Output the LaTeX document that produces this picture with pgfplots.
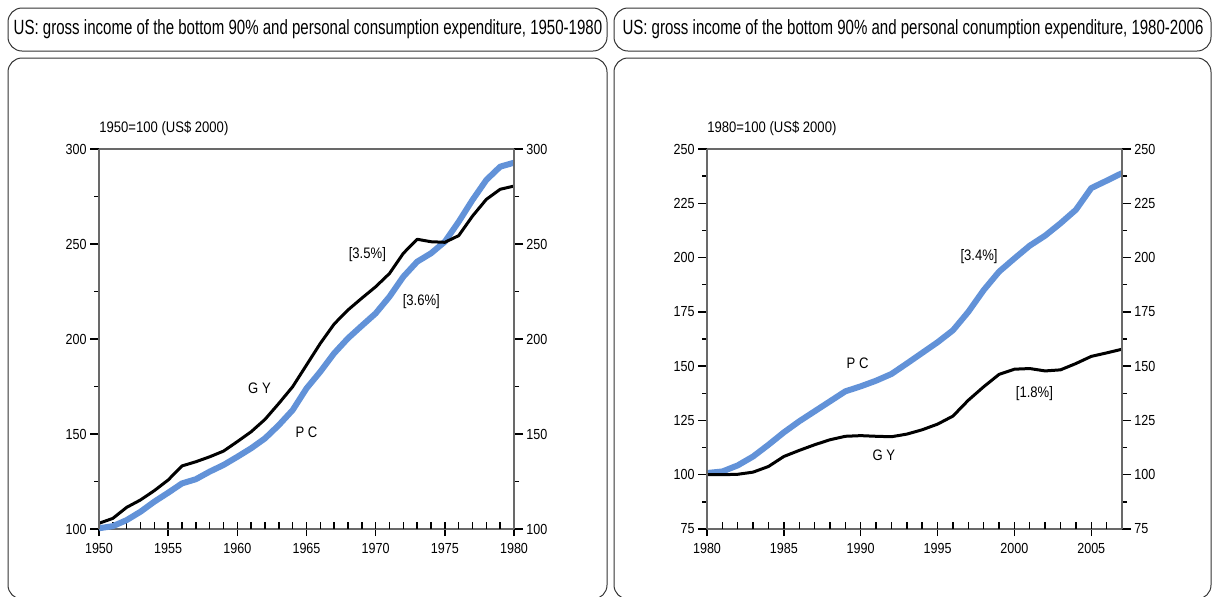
\documentclass[border=0pt]{standalone}
\usepackage{fontspec}
\setmainfont{Liberation Sans}
\newfontfamily\titlefont[FakeStretch=0.73]{Liberation Sans}
\newfontfamily\narrow[FakeStretch=0.86]{Liberation Sans}
\usepackage{pgfplots}
\pgfplotsset{compat=1.18}
\definecolor{pcblue}{RGB}{98,146,216}
\definecolor{axgray}{RGB}{105,105,105}

\pgfplotsset{
  base/.style={scale only axis, width=207.5pt, height=190pt,
    axis line style={draw=axgray, line width=0.7pt},
    tick style={black, line width=0.7pt},
    tick label style={font=\narrow\fontsize{7.3}{8}\selectfont},
    /pgf/number format/assume math mode=true,
    /pgf/number format/1000 sep={},
    clip=false},
  box/.style={base, xtick pos=bottom, ytick=\empty, tick align=center,
    major tick length=7pt,
    extra x tick labels={},
    extra x tick style={tick align=inside, major tick length=3.5pt}},
  yside/.style={base, axis x line=none, axis y line*=#1, tick align=outside,
    major tick length=4.5pt, minor tick length=2.5pt, minor y tick num=1,
    yticklabel style={inner sep=1.5pt}},
}
\tikzset{
  pc/.style={pcblue, line width=3pt, line join=round},
  gy/.style={black, line width=1.5pt, line join=round},
  lab/.style={font=\narrow\fontsize{7.6}{8.5}\selectfont, inner sep=0pt}
}

\begin{document}
\begin{tikzpicture}
\useasboundingbox (0,0) rectangle (607.5pt,-298pt);
\clip (0,0) rectangle (607.5pt,-298pt);
% frames
\begin{scope}[draw=black!80, line width=0.5pt, rounded corners=7pt]
\draw (4pt,-4pt) rectangle (303.5pt,-25.5pt);
\draw (4pt,-29pt) rectangle (303.5pt,-299.5pt);
\draw (307pt,-4pt) rectangle (605.5pt,-25.5pt);
\draw (307pt,-29pt) rectangle (605.5pt,-299.5pt);
\end{scope}
\node[font=\titlefont\fontsize{10.3}{12}\selectfont] at (154pt,-14.75pt)
  {US: gross income of the bottom 90\% and personal consumption expenditure, 1950-1980};
\node[font=\titlefont\fontsize{10.3}{12}\selectfont] at (456.5pt,-14.75pt)
  {US: gross income of the bottom 90\% and personal conumption expenditure, 1980-2006};

% ---- left panel, 1950-1980
\begin{axis}[box, at={(49.5pt,-264.5pt)}, anchor=south west,
  xmin=1950, xmax=1980, ymin=100, ymax=300,
  xtick={1950,1955,...,1980}, extra x ticks={1950,1951,...,1980}]
\addplot[pc] coordinates {
  (1950,100.4) (1951,101.5) (1952,104.7) (1953,109.1) (1954,114.4) (1955,119.1)
  (1956,124.0) (1957,126.2) (1958,130.2) (1959,133.7) (1960,138.0) (1961,142.5)
  (1962,147.7) (1963,154.7) (1964,162.6) (1965,174.0) (1966,182.8) (1967,192.5)
  (1968,200.4) (1969,207.0) (1970,213.5) (1971,222.3) (1972,232.8) (1973,240.7)
  (1974,245.1) (1975,251.2) (1976,261.7) (1977,273.2) (1978,283.7) (1979,290.7)
  (1980,292.8)};
\addplot[gy] coordinates {
  (1950,103.0) (1951,105.6) (1952,111.4) (1953,115.3) (1954,120.2) (1955,125.8)
  (1956,133.2) (1957,135.4) (1958,138.0) (1959,141.0) (1960,146.0) (1961,151.2)
  (1962,157.7) (1963,166.1) (1964,174.9) (1965,186.3) (1966,197.7) (1967,207.9)
  (1968,215.3) (1969,221.5) (1970,227.5) (1971,234.5) (1972,245.1) (1973,252.5)
  (1974,251.2) (1975,250.9) (1976,254.4) (1977,264.7) (1978,273.5) (1979,278.8)
  (1980,280.5)};
\node[lab, anchor=west, yshift=10.5pt] at (rel axis cs:0,1) {1950=100 (US\$ 2000)};
\node[lab] at (axis cs:1969.4,244.2) {[3.5\%]};
\node[lab] at (axis cs:1973.3,219.5) {[3.6\%]};
\node[lab] at (axis cs:1961.6,174.2) {G Y};
\node[lab] at (axis cs:1965.0,151.0) {P C};
\end{axis}
\begin{axis}[yside=left, at={(49.5pt,-264.5pt)}, anchor=south west,
  xmin=1950, xmax=1980, ymin=100, ymax=300, ytick={100,150,...,300}]
\end{axis}
\begin{axis}[yside=right, at={(49.5pt,-264.5pt)}, anchor=south west,
  xmin=1950, xmax=1980, ymin=100, ymax=300, ytick={100,150,...,300}]
\end{axis}

% ---- right panel, 1980-2007
\begin{axis}[box, at={(353.5pt,-264.5pt)}, anchor=south west,
  xmin=1980, xmax=2007, ymin=75, ymax=250,
  xtick={1980,1985,...,2005}, extra x ticks={1980,1981,...,2007}]
\addplot[pc] coordinates {
  (1980,100.8) (1981,101.5) (1982,104.3) (1983,108.4) (1984,113.8) (1985,119.5)
  (1986,124.6) (1987,129.2) (1988,133.8) (1989,138.4) (1990,140.7) (1991,143.3)
  (1992,146.4) (1993,151.2) (1994,156.1) (1995,161.0) (1996,166.5) (1997,175.0)
  (1998,185.0) (1999,193.5) (2000,199.6) (2001,205.5) (2002,210.1) (2003,215.8)
  (2004,222.0) (2005,232.0) (2006,235.4) (2007,238.9)};
\addplot[gy] coordinates {
  (1980,100.0) (1981,100.0) (1982,100.2) (1983,101.2) (1984,103.8) (1985,108.4)
  (1986,111.2) (1987,113.8) (1988,116.1) (1989,117.7) (1990,118.0) (1991,117.7)
  (1992,117.5) (1993,118.7) (1994,120.7) (1995,123.3) (1996,127.0) (1997,134.3)
  (1998,140.5) (1999,146.2) (2000,148.6) (2001,148.9) (2002,147.8) (2003,148.3)
  (2004,151.2) (2005,154.5) (2006,156.1) (2007,157.8)};
\node[lab, anchor=west, yshift=10.5pt] at (rel axis cs:0,1) {1980=100 (US\$ 2000)};
\node[lab] at (axis cs:1997.7,200.3) {[3.4\%]};
\node[lab] at (axis cs:1989.8,151.5) {P C};
\node[lab] at (axis cs:1991.5,109.1) {G Y};
\node[lab] at (axis cs:2001.3,137.2) {[1.8\%]};
\end{axis}
\begin{axis}[yside=left, at={(353.5pt,-264.5pt)}, anchor=south west,
  xmin=1980, xmax=2007, ymin=75, ymax=250, ytick={75,100,...,250}]
\end{axis}
\begin{axis}[yside=right, at={(353.5pt,-264.5pt)}, anchor=south west,
  xmin=1980, xmax=2007, ymin=75, ymax=250, ytick={75,100,...,250}]
\end{axis}
\end{tikzpicture}
\end{document}
